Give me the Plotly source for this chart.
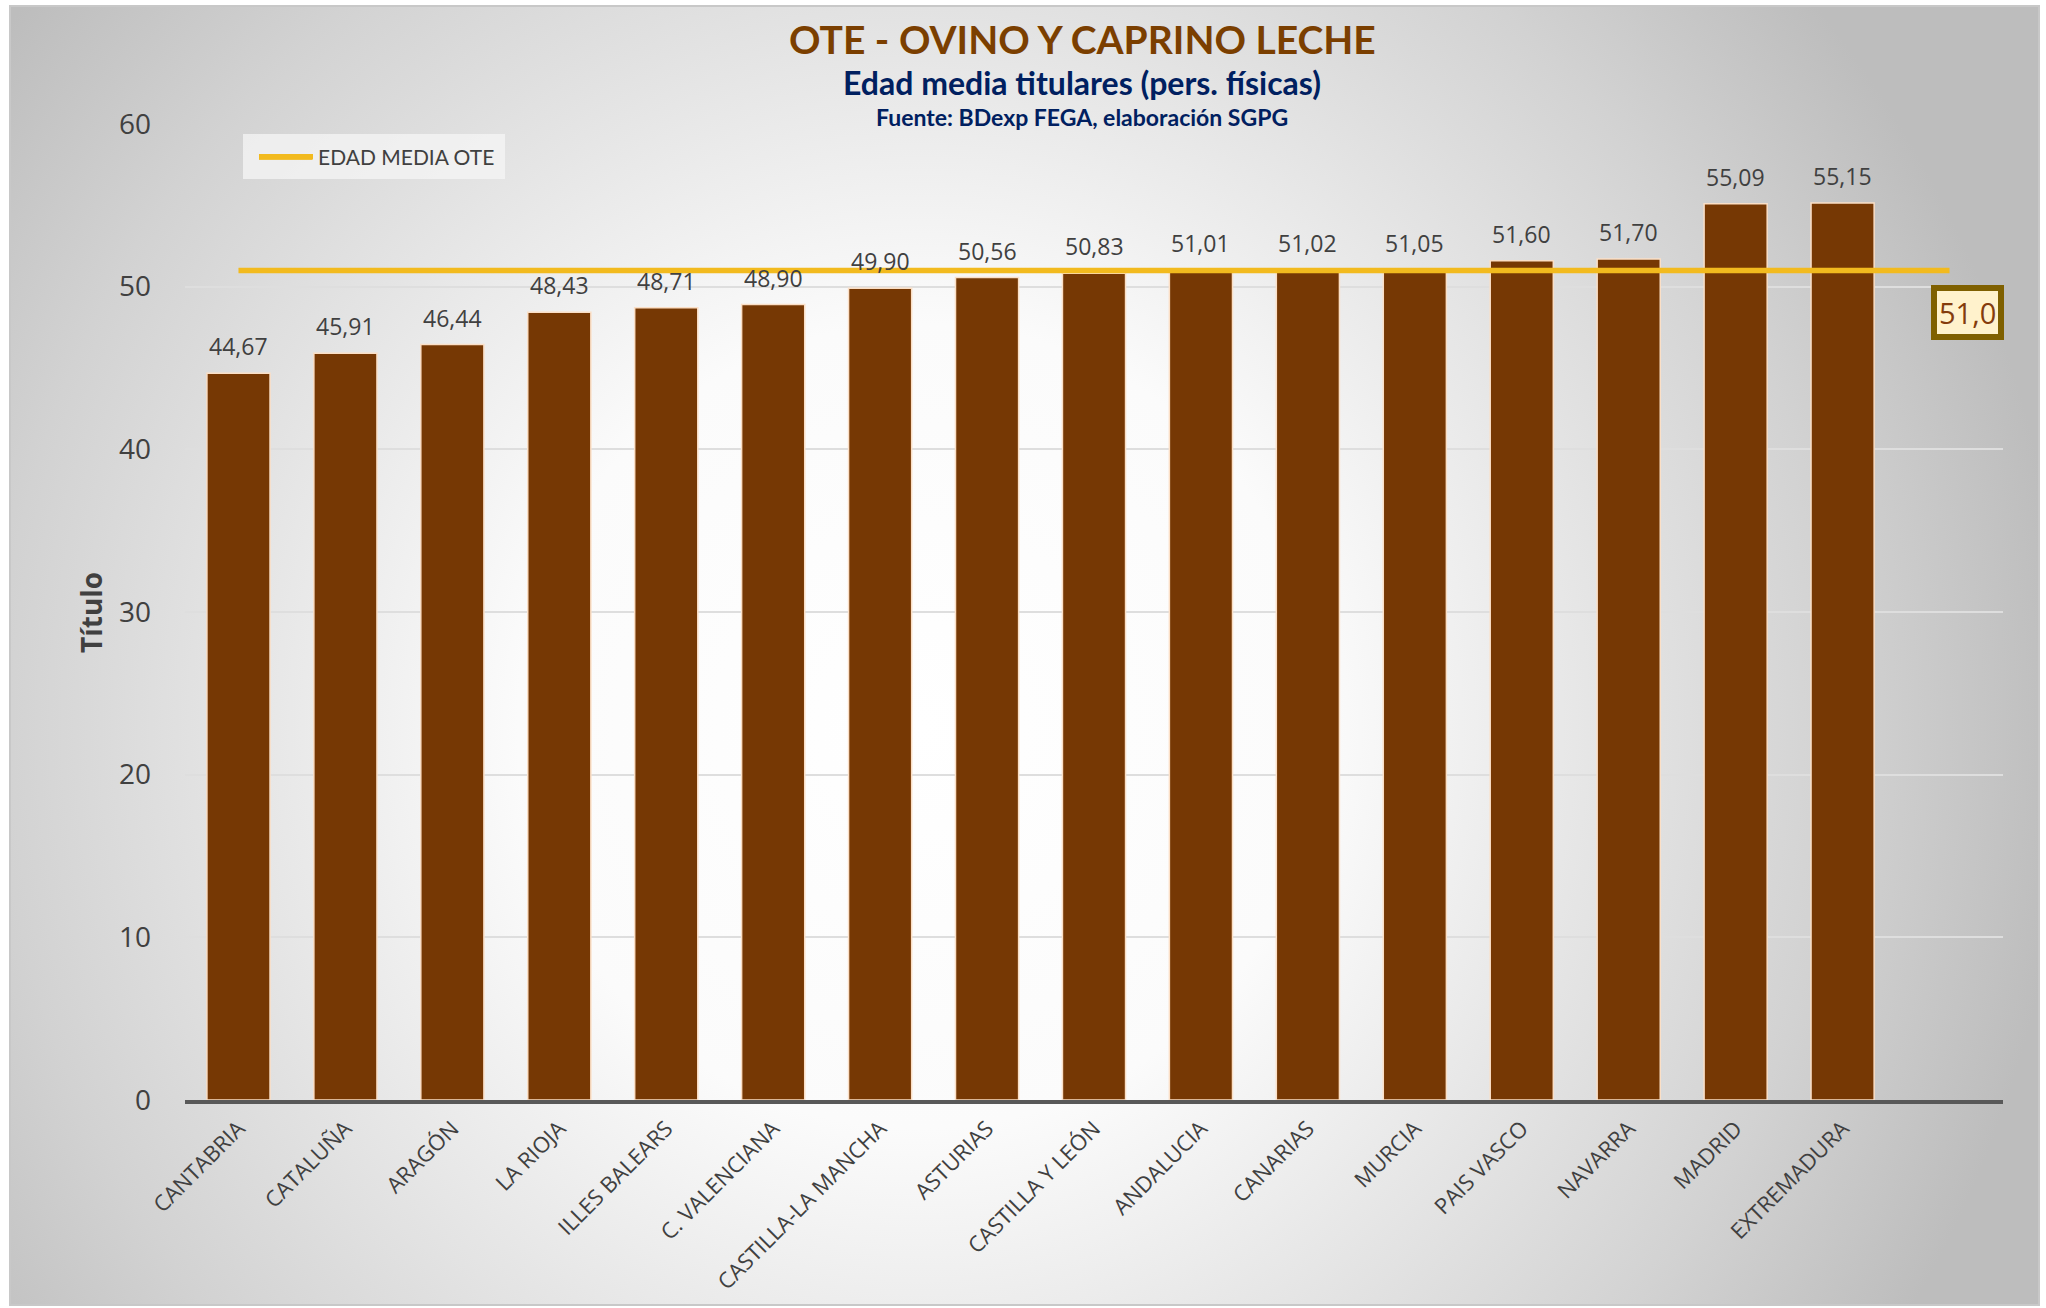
import base64
import plotly.graph_objects as go

# ---------------- data ----------------
categories = ["CANTABRIA", "CATALUÑA", "ARAGÓN", "LA RIOJA", "ILLES BALEARS",
              "C. VALENCIANA", "CASTILLA-LA MANCHA", "ASTURIAS", "CASTILLA Y LEÓN",
              "ANDALUCIA", "CANARIAS", "MURCIA", "PAIS VASCO", "NAVARRA",
              "MADRID", "EXTREMADURA", " "]
edad_media = [44.67, 45.91, 46.44, 48.43, 48.71, 48.90, 49.90, 50.56, 50.83,
              51.01, 51.02, 51.05, 51.60, 51.70, 55.09, 55.15, None]
edad_media_ote = [51.0, 51.0, 51.0, 51.0, 51.0, 51.0, 51.0, 51.0, 51.0,
                  51.0, 51.0, 51.0, 51.0, 51.0, 51.0, 51.0, 51.0]
y_ticks = [0, 10, 20, 30, 40, 50, 60]

title_text = "OTE - OVINO Y CAPRINO LECHE"
subtitle_text = "Edad media titulares (pers. físicas)"
source_text = "Fuente: BDexp FEGA, elaboración SGPG"
legend_name = "EDAD MEDIA OTE"
y_title = "Título"

# ---------------- geometry (page pixels, body margin removed) ----------------
W, H = 2046, 1308
ML, MR, MT, MB = 185, 43, 124, 208
PW, PH = W - ML - MR, H - MT - MB


def px2x(px):
    return (px - ML) / PW


def py2y(py):
    return (H - MB - py) / PH


def fmt(v, d=2):
    return f"{v:.{d}f}".replace(".", ",")


# background gradient frame
FX0, FY0, FX1, FY1 = 10, 6, 2039, 1305
fw, fh = FX1 - FX0, FY1 - FY0
svg = (f'<svg xmlns="http://www.w3.org/2000/svg" width="{fw}" height="{fh}" '
       f'viewBox="0 0 {fw} {fh}" preserveAspectRatio="none">'
       '<defs><radialGradient id="g" gradientUnits="userSpaceOnUse" '
       'cx="910" cy="720" r="1150">'
       '<stop offset="0" stop-color="#ffffff"/>'
       '<stop offset="0.35" stop-color="#fbfbfb"/>'
       '<stop offset="0.8" stop-color="#d2d2d2"/>'
       '<stop offset="1" stop-color="#bdbdbd"/>'
       '</radialGradient></defs>'
       f'<rect x="0" y="0" width="{fw}" height="{fh}" fill="url(#g)"/></svg>')
bg_src = "data:image/svg+xml;base64," + base64.b64encode(svg.encode()).decode()

BAR_COLOR = "rgb(118,56,4)"
LINE_COLOR = "#F2BA1E"
TEXT_GRAY = "#404040"
BODY_FONT = "Open Sans"
TITLE_FONT = "Lato"

fig = go.Figure()

fig.add_trace(go.Bar(
    x=categories, y=edad_media,
    marker=dict(color=BAR_COLOR, line=dict(color="#FBDFC6", width=1.5)),
    width=0.59, showlegend=False, hoverinfo="x+y",
))

fig.add_trace(go.Scatter(
    x=categories, y=edad_media_ote, mode="lines", name=legend_name,
    line=dict(color=LINE_COLOR, width=5.5),
))

annotations = []
for c, v in zip(categories, edad_media):
    if v is None:
        continue
    annotations.append(dict(
        x=c, y=v, xref="x", yref="y", text=fmt(v), showarrow=False,
        yanchor="bottom", yshift=9,
        font=dict(family=BODY_FONT, size=23, color=TEXT_GRAY),
    ))

# label of the average line, on its last point
annotations.append(dict(
    x=categories[-1], y=edad_media_ote[-1], xref="x", yref="y",
    text=fmt(edad_media_ote[-1], 1), showarrow=False,
    xshift=18, yshift=-42,
    font=dict(family=BODY_FONT, size=29, color="#843C0C"),
    bgcolor="#FFF2CC", bordercolor="#7F6000", borderwidth=6, borderpad=2,
))

# titles
annotations += [
    dict(x=px2x(1082), y=py2y(39), xref="paper", yref="paper", text=f"<b>{title_text}</b>",
         showarrow=False, xanchor="center", yanchor="middle",
         font=dict(family=TITLE_FONT, size=39, color="#7B3F00")),
    dict(x=px2x(1082), y=py2y(83), xref="paper", yref="paper", text=f"<b>{subtitle_text}</b>",
         showarrow=False, xanchor="center", yanchor="middle",
         font=dict(family=TITLE_FONT, size=32, color="#002060")),
    dict(x=px2x(1082), y=py2y(117), xref="paper", yref="paper", text=f"<b>{source_text}</b>",
         showarrow=False, xanchor="center", yanchor="middle",
         font=dict(family=TITLE_FONT, size=23, color="#002060")),
    dict(x=px2x(91), y=py2y(613), xref="paper", yref="paper", text=f"<b>{y_title}</b>",
         showarrow=False, xanchor="center", yanchor="middle", textangle=-90,
         font=dict(family=BODY_FONT, size=28, color=TEXT_GRAY)),
]

fig.update_layout(
    width=W, height=H,
    margin=dict(l=ML, r=MR, t=MT, b=MB, pad=0),
    paper_bgcolor="white", plot_bgcolor="rgba(0,0,0,0)",
    separators=",.",
    annotations=annotations,
    images=[dict(source=bg_src, xref="paper", yref="paper",
                 x=px2x(FX0), y=py2y(FY0), sizex=fw / PW, sizey=fh / PH,
                 xanchor="left", yanchor="top", sizing="stretch", layer="below")],
    shapes=[
        dict(type="rect", xref="paper", yref="paper",
             x0=px2x(FX0), x1=px2x(FX1), y0=py2y(FY1), y1=py2y(FY0),
             line=dict(color="#C8C8C8", width=2), fillcolor="rgba(0,0,0,0)",
             layer="below"),
        # legend background box
        dict(type="rect", xref="paper", yref="paper",
             x0=px2x(243), x1=px2x(505), y0=py2y(179), y1=py2y(134),
             line=dict(width=0), fillcolor="rgba(245,245,245,0.75)", layer="below"),
        # longer legend swatch
        dict(type="line", xref="paper", yref="paper",
             x0=px2x(259), x1=px2x(312), y0=py2y(157), y1=py2y(157),
             line=dict(color=LINE_COLOR, width=5.5), layer="above"),
    ],
    legend=dict(x=px2x(254), y=py2y(157), xanchor="left", yanchor="middle",
                bgcolor="rgba(0,0,0,0)", borderwidth=0,
                font=dict(family="Lato", size=21, color=TEXT_GRAY),
                itemwidth=54),
    showlegend=True,
    xaxis=dict(
        type="category", showgrid=False, showline=True,
        linecolor="#595959", linewidth=4, ticks="",
        tickangle=-45, ticklabelstandoff=3,
        tickfont=dict(family=BODY_FONT, size=22, color=TEXT_GRAY),
        range=[-0.5, len(categories) - 0.5],
    ),
    yaxis=dict(
        range=[0, 60], tickvals=y_ticks, showgrid=True,
        gridcolor="#DEDEDE", gridwidth=2, zeroline=False, showline=False,
        ticks="", ticklabelstandoff=33,
        tickfont=dict(family=BODY_FONT, size=28, color=TEXT_GRAY),
    ),
)

fig.write_html(
    "out.html",
    config={"displayModeBar": False},
    post_script="document.body.style.margin='0';document.body.style.overflow='hidden';",
)
